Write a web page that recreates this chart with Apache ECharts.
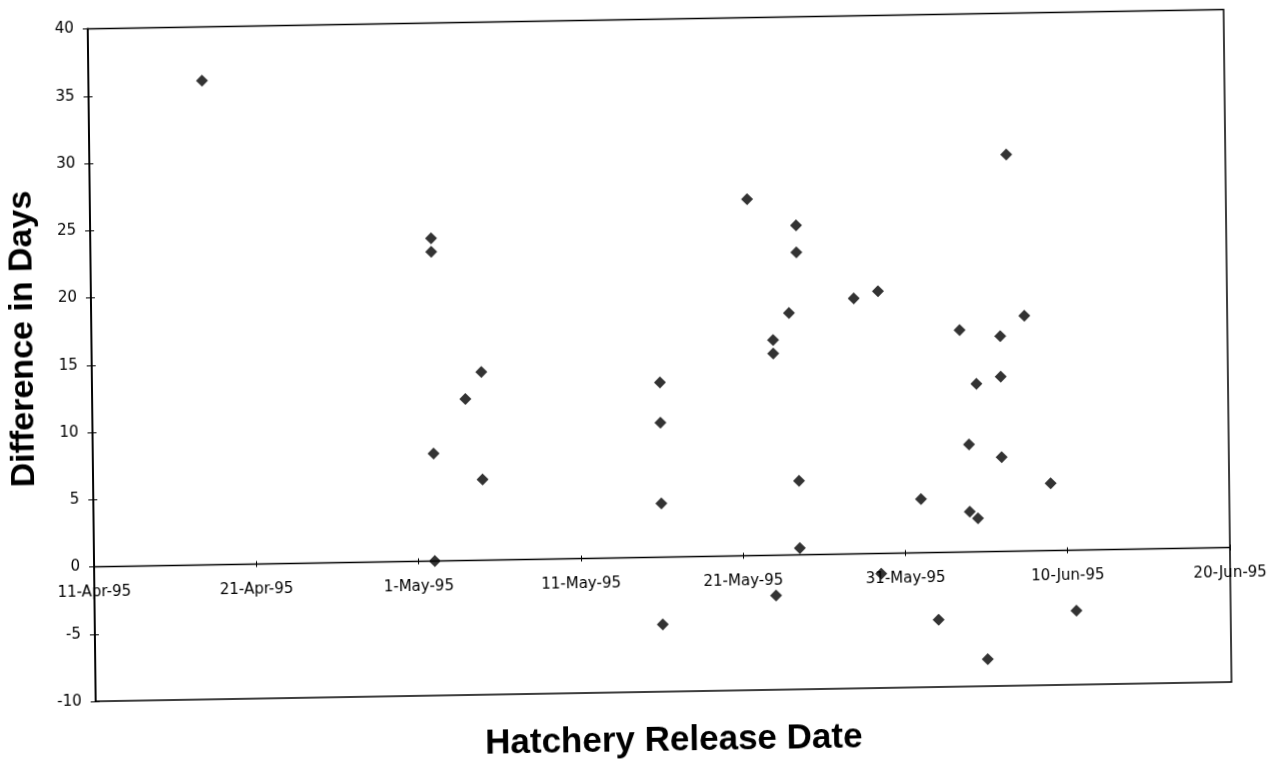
<!DOCTYPE html>
<html>
<head>
<meta charset="utf-8">
<script src="https://cdn.jsdelivr.net/npm/echarts@6/dist/echarts.min.js"></script>
<style>
  html, body { margin: 0; padding: 0; background: #fff; overflow: hidden; }
  /* the printed sheet sits slightly askew */
  #chart {
    width: 1287px; height: 759px;
    transform-origin: 643.5px 379.5px;
    transform: matrix(1, -0.017, 0.0118, 1, 0, 0);
  }
</style>
</head>
<body>
<div id="chart"></div>
<script>
// Hatchery release date of each group and the difference (days) observed for it
const releaseDates = [
  '1995-04-18',
  '1995-05-02', '1995-05-02', '1995-05-02', '1995-05-02',
  '1995-05-04',
  '1995-05-05', '1995-05-05',
  '1995-05-16', '1995-05-16', '1995-05-16', '1995-05-16',
  '1995-05-21 12:00',
  '1995-05-23', '1995-05-23', '1995-05-23',
  '1995-05-24',
  '1995-05-24 12:00', '1995-05-24 12:00', '1995-05-24 12:00', '1995-05-24 12:00',
  '1995-05-28',
  '1995-05-29 12:00', '1995-05-29 12:00',
  '1995-06-01',
  '1995-06-02',
  '1995-06-03 12:00',
  '1995-06-04', '1995-06-04',
  '1995-06-04 12:00', '1995-06-04 12:00',
  '1995-06-05',
  '1995-06-06', '1995-06-06', '1995-06-06',
  '1995-06-06 12:00',
  '1995-06-07 12:00',
  '1995-06-09',
  '1995-06-10 12:00'
];
const dayDifferences = [
  36,
  24, 23, 8, 0,
  12,
  14, 6,
  13, 10, 4, -5,
  26.5,
  16, 15, -3,
  18,
  24.5, 22.5, 5.5, 0.5,
  19,
  19.5, -1.5,
  4,
  -5,
  16.5,
  8, 3,
  12.5, 2.5,
  -8,
  16, 13, 7,
  29.5,
  17.5,
  5,
  -4.5
];
const dateTickLabels = ['11-Apr-95', '21-Apr-95', '1-May-95', '11-May-95',
                        '21-May-95', '31-May-95', '10-Jun-95', '20-Jun-95'];

const TITLE_FONT = '"Liberation Sans", Arial, Helvetica, sans-serif';
const TICK_FONT = '"DejaVu Sans", Verdana, sans-serif';
const axisStart = Date.UTC(1995, 3, 11);

// days elapsed since 11-Apr-95 (the x axis runs in days)
function daysFromStart(s) {
  const [datePart, timePart] = s.split(' ');
  const [y, m, d] = datePart.split('-').map(Number);
  let ms = Date.UTC(y, m - 1, d);
  if (timePart) {
    const [h, mi] = timePart.split(':').map(Number);
    ms += (h * 60 + mi) * 60000;
  }
  return (ms - axisStart) / 86400000;
}

const points = releaseDates.map((s, i) => [daysFromStart(s), dayDifferences[i]]);

const chart = echarts.init(document.getElementById('chart'), null, { renderer: 'canvas' });

const gridBox = { left: 92, top: 19.5, width: 1136, height: 672.5 };
const xRange = { min: 0, max: 70, interval: 10 };
const yRange = { min: -10, max: 40, interval: 5 };
// the date axis runs along the zero line, lifted up from the bottom edge
const zeroLift = -gridBox.height * (0 - yRange.min) / (yRange.max - yRange.min);

chart.setOption({
  backgroundColor: '#ffffff',
  animation: false,
  grid: Object.assign({ show: true, borderColor: '#000', borderWidth: 1.5, containLabel: false }, gridBox),
  xAxis: [
    Object.assign({
      type: 'value',
      position: 'bottom',
      offset: zeroLift,
      axisLine: { show: true, onZero: false, lineStyle: { color: '#000', width: 1.3 } },
      axisTick: { show: true, inside: false, length: 3, lineStyle: { color: '#000', width: 1 } },
      axisLabel: {
        show: true, margin: 18, color: '#000', fontSize: 15, fontFamily: TICK_FONT,
        showMinLabel: true, showMaxLabel: true, hideOverlap: false,
        formatter: v => dateTickLabels[Math.round(v / 10)]
      },
      splitLine: { show: false }
    }, xRange),
    Object.assign({
      type: 'value',
      position: 'bottom',
      offset: zeroLift,
      axisLine: { show: false, onZero: false },
      axisTick: { show: true, inside: true, length: 3, lineStyle: { color: '#000', width: 1 } },
      axisLabel: { show: false },
      splitLine: { show: false }
    }, xRange)
  ],
  yAxis: [
    Object.assign({
      type: 'value',
      position: 'left',
      axisLine: { show: true, onZero: false, lineStyle: { color: '#000', width: 1.8 } },
      axisTick: { show: true, inside: false, length: 5, lineStyle: { color: '#000', width: 1 } },
      axisLabel: { show: true, margin: 14, color: '#000', fontSize: 15, fontFamily: TICK_FONT },
      splitLine: { show: false }
    }, yRange),
    Object.assign({
      type: 'value',
      position: 'left',
      offset: 0,
      axisLine: { show: false, onZero: false },
      axisTick: { show: true, inside: true, length: 4, lineStyle: { color: '#000', width: 1 } },
      axisLabel: { show: false },
      splitLine: { show: false }
    }, yRange)
  ],
  series: [{
    type: 'scatter',
    xAxisIndex: 0,
    yAxisIndex: 0,
    symbol: 'diamond',
    symbolSize: [12, 12],
    itemStyle: { color: '#000' },
    data: points
  }],
  graphic: [
    {
      type: 'text',
      x: 23.5, y: 328.5,
      rotation: Math.PI / 2,
      style: {
        text: 'Difference in Days',
        fill: '#000',
        fontSize: 34, fontWeight: 'bold', fontFamily: TITLE_FONT,
        textAlign: 'center', textVerticalAlign: 'middle'
      }
    },
    {
      type: 'text',
      x: 669.7, y: 741,
      style: {
        text: 'Hatchery Release Date',
        fill: '#000',
        fontSize: 35, fontWeight: 'bold', fontFamily: TITLE_FONT,
        textAlign: 'center', textVerticalAlign: 'middle'
      }
    }
  ]
});
</script>
</body>
</html>
